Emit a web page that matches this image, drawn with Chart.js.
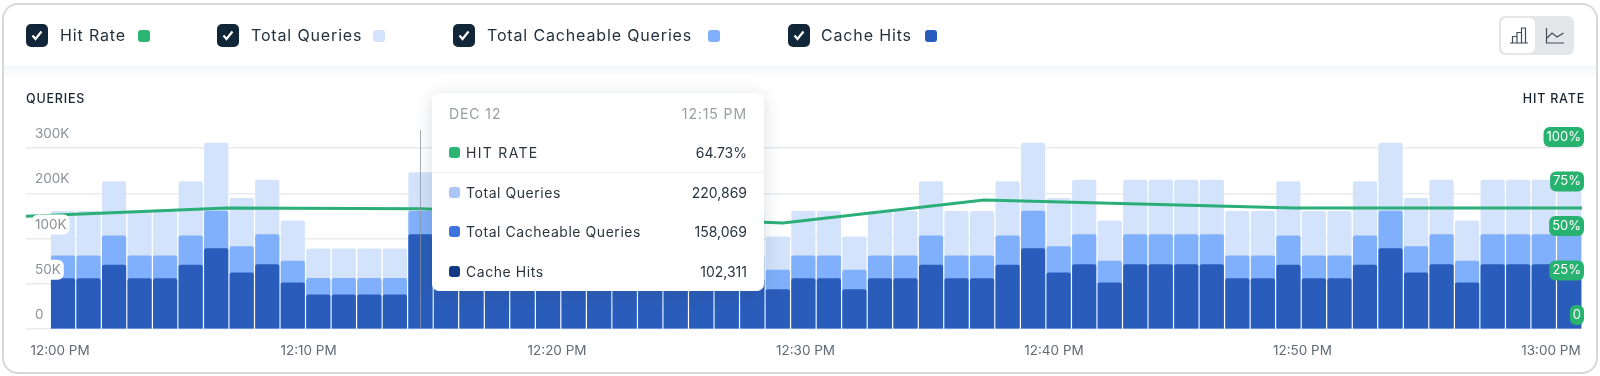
<!DOCTYPE html>
<html><head><meta charset="utf-8">
<script src="https://cdn.jsdelivr.net/npm/chart.js@4"></script>
<style>
html,body{margin:0;padding:0;background:#fff;width:1600px;height:376px;overflow:hidden}
body,canvas{font-family:Inter,"Noto Sans",sans-serif}
#card{position:absolute;left:2px;top:3px;width:1592px;height:367px;border:2px solid #d6d8da;border-radius:16px;background:#fff}
#fade{position:absolute;left:4px;top:66px;width:1592px;height:12px;background:linear-gradient(#f5f6f7,#fff)}
#c{position:absolute;left:0;top:0}
.cb{position:absolute;top:24px;width:22px;height:23px;border-radius:5px;background:#12263a}
.cb svg{position:absolute;left:5px;top:6px}
.lg{position:absolute;top:23px;line-height:24px;font-size:16px;letter-spacing:.85px;color:#24323e;white-space:nowrap}
.dot{position:absolute;top:30px;width:12px;height:12px;border-radius:3px}
.ax{position:absolute;top:91px;font-size:12.5px;font-weight:500;letter-spacing:.8px;color:#18242f;line-height:16px}
#tog{position:absolute;left:1499px;top:16px;width:75px;height:39px;border-radius:6px;background:#e4e7ea}
#tog i{position:absolute;left:2px;top:2px;width:34px;height:35px;border-radius:6px;background:#fff}
#tog svg{position:absolute;top:11px}
#tip{position:absolute;left:432px;top:93px;width:332px;height:198px;background:#fff;border-radius:7px;box-shadow:0 3px 18px rgba(40,55,75,.17);color:#2a3540;font-size:14px;z-index:3}
#tip .r{position:absolute;left:17px;right:17px;line-height:20px;display:flex;justify-content:space-between;white-space:nowrap}
#tip .r b{font-weight:400}
#tip .r span{padding-left:17px;position:relative;letter-spacing:.55px}
#tip .r span i{position:absolute;left:0;top:4px;width:11px;height:11px;border-radius:3px}
#tip .sep{position:absolute;left:0;right:0;top:79px;height:1px;background:#f0f1f2}
</style></head><body>
<div id="card"></div><div id="fade"></div>
<canvas id="c" width="1600" height="376"></canvas>
<div id="legend"></div>
<div class="ax" style="left:26px">QUERIES</div>
<div class="ax" style="right:15px">HIT RATE</div>
<div id="tog"><i></i>
<svg style="left:10px" width="20" height="17" viewBox="0 0 20 17" fill="none" stroke="#3d4c58" stroke-width="1.2"><path d="M1 16H19M3.500 16V9.500H8V16M8 16V5.500H12.500V16M12.500 16V1H16.500V16"/></svg>
<svg style="left:46px" width="20" height="17" viewBox="0 0 20 17" fill="none" stroke="#3d4c58" stroke-width="1.2"><path d="M1.500 1V16H19M2 11L7 6L12 10L18.500 6"/></svg>
</div>
<div id="tip"></div>
<script>
const categories = ['12:00','12:01','12:02','12:03','12:04','12:05','12:06','12:07','12:08','12:09','12:10','12:11','12:12','12:13','12:14','12:15','12:16','12:17','12:18','12:19','12:20','12:21','12:22','12:23','12:24','12:25','12:26','12:27','12:28','12:29','12:30','12:31','12:32','12:33','12:34','12:35','12:36','12:37','12:38','12:39','12:40','12:41','12:42','12:43','12:44','12:45','12:46','12:47','12:48','12:49','12:50','12:51','12:52','12:53','12:54','12:55','12:56','12:57','12:58','12:59','13:00'];
const totalQueries = [null,160000,160000,226000,160000,160000,226000,311000,189000,229000,139000,88600,88600,88600,88600,246000,160000,160000,226000,160000,160000,226000,229000,229000,160000,160000,226000,160000,160000,104000,160000,160000,104000,160000,160000,226000,160000,160000,226000,311000,189000,229000,139000,229000,229000,229000,229000,160000,160000,226000,160000,160000,226000,311000,189000,229000,139000,229000,229000,229000,229000];
const cacheableQueries = [null,81000,81000,106000,81000,81000,106000,161000,91000,109000,75000,56000,56000,56000,56000,160000,81000,81000,106000,81000,81000,106000,109000,109000,81000,81000,106000,81000,81000,65000,81000,81000,65000,81000,81000,106000,81000,81000,106000,161000,91000,109000,75000,109000,109000,109000,109000,81000,81000,106000,81000,81000,106000,161000,91000,109000,75000,109000,109000,109000,109000];
const cacheHits = [null,55800,55800,70600,55800,55800,70600,89000,62000,71300,51000,37900,37900,37900,37900,109000,55800,55800,70600,55800,55800,70600,71300,71300,55800,55800,70600,55800,55800,43700,55800,55800,43700,55800,55800,70600,55800,55800,70600,89000,62000,71300,51000,71300,71300,71300,71300,55800,55800,70600,55800,55800,70600,89000,62000,71300,51000,71300,71300,71300,71300];
const hitRateMinutes = [-0.45,7.42,15.02,29.2,37.08,49.26,60.5];
const hitRateValues = [62.3,66.9,66.5,58.6,71.3,66.9,66.9];
const queryTicks = [0,50000,100000,200000,300000];
const queryTickLabels = ['0','50K','100K','200K','300K'];
const hitTicks = [0,25,50,75,100];
const hitTickLabels = ['0','25%','50%','75%','100%'];
const timeTicks = [0,10,20,30,40,50,60];
const timeTickLabels = ['12:00 PM','12:10 PM','12:20 PM','12:30 PM','12:40 PM','12:50 PM','13:00 PM'];
const legendNames = ['Hit Rate','Total Queries','Total Cacheable Queries','Cache Hits'];
const legendColors = ['#2ab672','#d2e3fb','#80b0fb','#2a5dbb'];
const tipDate = 'DEC 12', tipTime = '12:15 PM', tipCategory = '12:15';
const tipNames = ['HIT RATE','Total Queries','Total Cacheable Queries','Cache Hits'];
const tipValues = ['64.73%','220,869','158,069','102,311'];
const tipColors = ['#2ab672','#a9c6f6','#3f73dd','#123a84'];

// header legend
const lgX=[[26,60,138],[217,251,373],[453,487,708],[788,821,925]];
document.getElementById('legend').innerHTML=legendNames.map((n,i)=>
 `<div class="cb" style="left:${lgX[i][0]}px"><svg width="12" height="11" viewBox="0 0 12 11" fill="none" stroke="#fff" stroke-width="2.200"><path d="M1.500 5.500L4.500 9L10.500 1.500"/></svg></div>`+
 `<div class="lg" style="left:${lgX[i][1]}px">${n}</div><div class="dot" style="left:${lgX[i][2]}px;background:${legendColors[i]}"></div>`).join('');
// readout card
const rowY=[50,90,129,169];
document.getElementById('tip').innerHTML=
 `<div class="r" style="top:11px;color:#9a9ea3;letter-spacing:.9px"><b>${tipDate}</b><b>${tipTime}</b></div><div class="sep"></div>`+
 tipNames.map((n,i)=>`<div class="r" style="top:${rowY[i]}px"><span style="${i==0?'letter-spacing:1.300px':''}"><i style="background:${tipColors[i]}"></i>${n}</span><b>${tipValues[i]}</b></div>`).join('');

class PillLinear extends Chart.LinearScale{
  _computeLabelItems(a){
    const items=super._computeLabelItems(a), s=this.options.labelShift||0, k=this.options.labelSlope||0;
    items.forEach(t=>{const [x,y]=t.options.translation;t.options.translation=[x,y-s+k*(this.bottom-y)];});
    return items;
  }
  drawLabels(a){
    const c=this.ctx, col=this.options.pillColor;
    if(col){
      const px=this.options.pillPadX, h=this.options.pillHeight;
      c.save();c.fillStyle=col;
      this.getLabelItems(a).forEach(t=>{
        c.font=t.font.string;
        const w=c.measureText(t.label).width,[x,y]=t.options.translation;
        const l=t.options.textAlign==='right'?x-w:x;
        c.beginPath();c.roundRect(l-px,y-h/2,w+2*px,h,6);c.fill();
      });
      c.restore();
    }
    super.drawLabels(a);
  }
}
PillLinear.id='pillLinear';PillLinear.defaults={};
class PiecewiseScale extends PillLinear{
  getPixelForValue(v){
    const b=queryTicks;let u=0;
    for(let i=1;i<b.length;i++){
      if(v<=b[i]||i===b.length-1){u=i-1+(v-b[i-1])/(b[i]-b[i-1]);break;}
    }
    const n=b.length-1, top=n-1+(this.max-b[n-1])/(b[n]-b[n-1]);
    return this.getPixelForDecimal(u/top);
  }
}
PiecewiseScale.id='piecewise';PiecewiseScale.defaults={};
Chart.register(PillLinear,PiecewiseScale);

const crosshair={id:'crosshair',afterDatasetsDraw(ch){
  const x=ch.scales.xData.getPixelForValue(categories.indexOf(tipCategory)),a=ch.chartArea,c=ch.ctx;
  c.save();c.strokeStyle='rgba(140,150,160,.75)';c.lineWidth=1;c.beginPath();c.moveTo(Math.round(x)+.5,a.top);c.lineTo(Math.round(x)+.5,a.bottom);c.stroke();c.restore();
}};
const FONT='Inter,"Noto Sans",sans-serif';
const flatWidth=s=>{s.width=0;s.paddingLeft=0;s.paddingRight=0;};
const pts=vals=>categories.map((c,i)=>({x:i,y:vals[i]}));
const barBase={type:'bar',grouped:false,barThickness:23.5,borderRadius:{topLeft:2,topRight:2},borderSkipped:'bottom',xAxisID:'xData',yAxisID:'y'};
new Chart(document.getElementById('c'),{
  data:{datasets:[
    {type:'line',label:'Hit Rate',data:hitRateMinutes.map((m,i)=>({x:m,y:hitRateValues[i]})),borderColor:'#2bae78',borderWidth:3,pointRadius:0,tension:0,xAxisID:'xData',yAxisID:'yHit',order:0},
    {...barBase,label:'Cache Hits',data:pts(cacheHits),backgroundColor:'#2a5dbb',order:1},
    {...barBase,label:'Total Cacheable Queries',data:pts(cacheableQueries),backgroundColor:'#80b0fb',order:2},
    {...barBase,label:'Total Queries',data:pts(totalQueries),backgroundColor:'#d2e3fb',order:3}
  ]},
  plugins:[crosshair],
  options:{
    responsive:false,animation:false,
    layout:{padding:{left:26,right:18,top:130,bottom:14}},
    plugins:{legend:{display:false},tooltip:{enabled:false}},
    scales:{
      xData:{type:'linear',display:false,offset:false,grid:{offset:false},min:-0.45,max:60.5},
      xTime:{type:'linear',position:'bottom',offset:false,min:-1.37,max:61.25,
        afterBuildTicks(s){s.ticks=timeTicks.map(v=>({value:v}));},
        afterFit(s){s.paddingLeft=0;s.paddingRight=0;s.height=33;},
        grid:{display:false,drawTicks:false},border:{display:false},
        ticks:{padding:14,autoSkip:false,maxRotation:0,color:'#5f6b76',font:{family:FONT,size:13.5},
          callback:v=>timeTickLabels[timeTicks.indexOf(v)]}},
      y:{type:'piecewise',position:'left',min:0,max:340000,
        labelShift:14,pillColor:'#fff',pillPadX:3,pillHeight:20,
        afterBuildTicks(s){s.ticks=queryTicks.map(v=>({value:v}));},
        afterFit:flatWidth,
        grid:{color:'#e9ebed',lineWidth:1.5,drawTicks:false},border:{display:false},
        ticks:{mirror:true,padding:9,z:1,autoSkip:false,color:'#8a9199',font:{family:FONT,size:13.5},
          callback:v=>queryTickLabels[queryTicks.indexOf(v)]}},
      yHit:{type:'pillLinear',position:'right',min:0,max:110,
        labelShift:14,labelSlope:0.0166,pillColor:'#27b26f',pillPadX:3,pillHeight:20,
        afterBuildTicks(s){s.ticks=hitTicks.map(v=>({value:v}));},
        afterFit:flatWidth,
        grid:{display:false,drawTicks:false},border:{display:false},
        ticks:{mirror:true,padding:-1,z:1,autoSkip:false,color:'#fff',font:{family:FONT,size:13},
          callback:v=>hitTickLabels[hitTicks.indexOf(v)]}}
    }
  }
});
</script>
</body></html>
